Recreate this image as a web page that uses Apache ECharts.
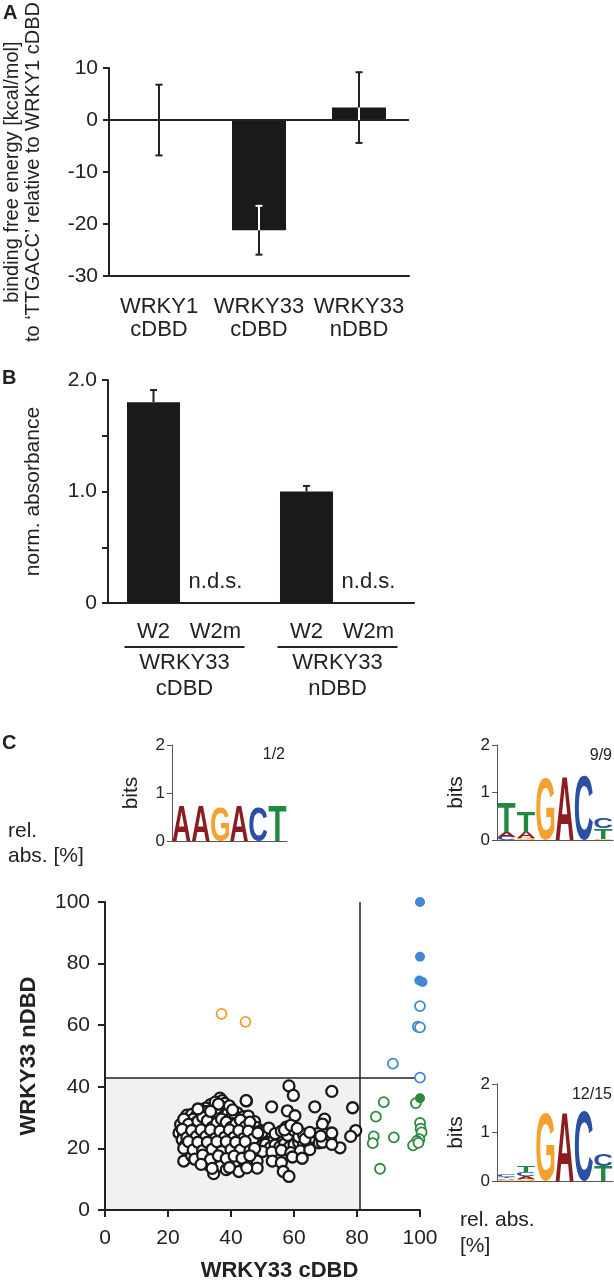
<!DOCTYPE html>
<html><head><meta charset="utf-8">
<script src="https://cdn.jsdelivr.net/npm/echarts@6/dist/echarts.min.js"></script>
<style>html,body{margin:0;padding:0;background:#fff}#c{width:614px;height:1284px}</style>
</head><body><div id="c"></div>
<script>
// ---------- Panel A ----------
const aCategories = ['WRKY1\ncDBD', 'WRKY33\ncDBD', 'WRKY33\nnDBD'];
const aValues = [0, -21.2, 2.4];
const aErrors = [6.8, 4.7, 6.8];
const aYName = 'binding free energy [kcal/mol]\nto \u2018TTGACC\u2019 relative to WRKY1 cDBD';
// ---------- Panel B ----------
const bGroups = ['WRKY33\ncDBD', 'WRKY33\nnDBD'];
const bProbes = ['W2', 'W2m'];
const bW2 = [1.80, 1.00];
const bW2err = [0.11, 0.05];
const bW2m = [0, 0];
const bW2mLabel = 'n.d.s.';
const bTickLabels = { '0': '0', '1': '1.0', '2': '2.0' };
const bYName = 'norm. absorbance';
// ---------- Panel C scatter ----------
const blackPts = [
[58.4,40.3],[59.8,37.2],[72,38.5],[44.9,35.4],[52.9,33.5],[57.9,32.2],[60.3,30.6],[66.6,33.5],[78.6,33.2],[79.6,25.8],[78,23.9],[69.7,29.5],[69,27.9],[74.6,20.2],
[36.5,36.3],[37.2,35.5],[38,34.6],[33.5,34.2],[35,33.5],[38.5,33.2],[34,33],[32,33.1],[30.5,32.4],[42,31.5],[44.8,35.5],
[26,30.8],[27.5,31],[29,30.5],[31,31.8],[32.5,32],[34.5,31.5],[36,31],[37.5,30.2],[39,31.5],[40.5,30.8],[42.5,29.8],[44,30.3],[45.5,30.5],[28,29.5],[30,29.2],[33,30],[35.5,29.6],[38,29],[41,29.3],[47.5,28.7],[43.5,28.2],
[24,27.8],[25.5,28.5],[27,27.3],[28.5,28],[30,27.5],[31.5,28.3],[33,27.8],[34.5,28.5],[36,27.2],[37.5,27.8],[39,27.5],[40.5,28],[42,27.2],[43.5,26.6],[45,27.4],[46.5,26.3],[48,26.8],[49.5,25.8],[26,26.5],[29,26.2],[32,26.4],[35,26],[38,26.3],[41,25.8],[44,25.5],[47,25.2],
[23.5,25],[25,24.3],[26.5,25.3],[28,24.6],[29.5,25],[31,24.2],[32.5,25.1],[34,24.5],[35.5,24.9],[37,24.1],[38.5,25],[40,24.3],[41.5,24.8],[43,24],[44.5,24.6],[46,23.8],[47.5,24.2],[49,23.5],[50.5,24.3],[52,23.2],[24.5,22.8],[27,23],[30,22.5],[33,23.2],[36,22.6],[39,23],[42,22.4],[45,22.8],[48,22.2],[51,22],[53.5,22.6],[55,23.5],[56.5,22.2],
[25.5,21],[27,21.8],[28.5,20.5],[30,21.5],[31.5,20.2],[33,21.2],[34.5,20.8],[36,21.6],[37.5,20.4],[39,21.3],[40.5,20],[42,21],[43.5,20.5],[45,21.4],[46.5,20.2],[48,21],[49.5,20.6],[51,21.3],[52.5,20.3],[54,21.1],[55.5,20.5],[57,21.5],[58.5,20.4],[60,21.2],[61.5,22],[63,21.5],[64.5,20.8],
[26.5,19],[29,18.5],[32,19.2],[35,18.7],[38,19.5],[41,18.6],[44,19.1],[47,18.4],[50,19],[53,18.8],[56,19.4],[59,18.6],[62,19.2],[65,19.6],
[25,15.9],[27.5,17.6],[30,16.2],[32.5,17.1],[35,15.8],[37,16.9],[39.5,15.5],[42,16.7],[44.5,15.4],[47,16.3],[48.3,15.9],[53.1,15.9],[56,15.4],[59.5,17.2],[62.6,16.8],[33,14.5],[36.5,14.2],[41,14.8],
[34.5,11.8],[38.5,13.1],[42.5,12.5],[48.3,13.6],[56.6,12.5],[58.4,10.9],
[50,25.3],[52,26.6],[54,24.8],[56,25.6],[57.5,26.9],[58,24.2],[60,25.8],[61.5,23.8],[63,24.6],[64,22.8],[66,23.6],[67.5,24.8],[68,21.8],[70,24.5],[71.5,23],[72,25],[69,22],[72,21.3],[57,26],[59,27.5],[61,26.5],[63.5,23],[65,25.2],[68.5,24],
[25,29.5],[26.5,27.8],[28,26],[29.5,28.8],[31,30.2],[32.5,29],[34,26.8],[35.5,28.2],[37,29.5],[38.5,28.5],[40,26.8],[41.5,27.8],[43,29.2],[44.5,27],[46,28.5],
[24.5,26.2],[26,23.5],[27.5,25.8],[29,23.8],[30.5,26],[32,23.8],[33.5,26],[35,23.2],[36.5,25.6],[38,23.6],[39.5,26],[41,23.6],[42.5,25.8],[44,23.2],[45.5,25.6],[47,23],[48.5,25],
[25,20],[26.5,22.2],[28,19.5],[29.5,22],[31,19.3],[32.5,22],[34,19.7],[35.5,22.2],[37,19],[38.5,22.2],[40,19.6],[41.5,22],[43,19.5],[44.5,22.2],[46,19.2],[47.5,20],
[28.5,16.5],[31,17.8],[33.5,16.4],[36,17.6],[38.5,16.7],[41,17.5],[43.5,16.8],[46,17.6],[34,13.5],[39.5,13.8],[30.5,14.8],[45,13.7],
[35,35],[39.5,33.8],[36,34.4],[40.5,32.5],[33.5,32],[29.5,32.8]
];
const orangeOpen = [[37,63.7],[44.6,61.1]];
const blueFilled = [[100,100],[100,82.2],[99.8,74.5],[100.8,74]];
const blueOpen = [[100,66.2],[99.3,59.5],[100,59.3],[91.4,47.5],[100,43]];
const greenFilled = [[100,36.3]];
const greenOpen = [[98.7,34.7],[88.5,35],[86,30.3],[85.3,23.9],[85,21.7],[91.7,23.6],[87.3,13.4],[100,28.3],[100.2,26.4],[100.5,25.2],[99.8,23],[99,22.4],[97.8,21],[99.5,21.8]];
const thrX = 81, thrY = 43;
const cXName = 'WRKY33 cDBD', cYName = 'WRKY33 nDBD';
const relAbsLeft = 'rel.\nabs. [%]', relAbsBottom = 'rel. abs.\n[%]';
// ---------- Sequence logos (letter, bits) bottom -> top ----------
const logoPositions = ['1','2','3','4','5','6'];
const logoOrange = [[['A',0.72]],[['A',0.72]],[['G',0.72]],[['A',0.72]],[['C',0.72]],[['T',0.72]]];
const logoBlue = [[['C',0.07],['A',0.10],['T',0.63]],[['G',0.04],['A',0.13],['T',0.44]],[['G',1.31]],[['A',1.35]],[['C',1.35]],[['G',0.03],['T',0.22],['C',0.22]]];
const logoGreen = [[['G',0.03],['A',0.03],['T',0.03],['C',0.04]],[['G',0.04],['A',0.06],['C',0.08],['T',0.13]],[['G',1.41]],[['A',1.43]],[['C',1.43]],[['T',0.31],['C',0.23]]];
const logoCounts = ['1/2','9/9','12/15'];

// ---------- styling ----------
const FF = "'Liberation Sans', Arial, Helvetica, sans-serif";
const INK = '#222';
const LETTERS = 'ACGT';
const LETTER_COLORS = { A: '#8c1c1f', C: '#2b4fa3', G: '#f4a22d', T: '#1f8a3d' };
const LOGO_FONT = "bold 100px 'Liberation Sans', Arial, sans-serif";
const COL_BLUE = '#4289d2', COL_GREEN = '#2b8a3c', COL_ORANGE = '#f0a02e';
const BAR_W_B = 53, BAR_GAP_B = 0.17;

const meas = (() => {
  const ctx = document.createElement('canvas').getContext('2d');
  ctx.font = LOGO_FONT; ctx.textAlign = 'center'; ctx.textBaseline = 'middle';
  const r = {};
  for (const L of LETTERS) {
    const m = ctx.measureText(L);
    r[L] = { l: m.actualBoundingBoxLeft, r: m.actualBoundingBoxRight, a: m.actualBoundingBoxAscent, d: m.actualBoundingBoxDescent };
  }
  return r;
})();

function logoData(cols) {
  const out = [];
  cols.forEach((stack, c) => {
    let y = 0;
    stack.forEach(([L, h]) => { out.push([c, y, y + h, LETTERS.indexOf(L)]); y += h; });
  });
  return out;
}
function logoItem(params, api) {
  const c = api.value(0), y0 = api.value(1), y1 = api.value(2), L = LETTERS[api.value(3)];
  const pb = api.coord([c, y0]), pt = api.coord([c, y1]);
  const bw = api.size([1, 0])[0];
  const left = pb[0] - bw / 2 + 0.6, right = pb[0] + bw / 2 - 0.6;
  const m = meas[L];
  const sx = (right - left) / (m.l + m.r), sy = Math.max(pb[1] - pt[1], 0.01) / (m.a + m.d);
  return {
    type: 'text', x: left + m.l * sx, y: pb[1] - m.d * sy, scaleX: sx, scaleY: sy,
    style: { text: L, x: 0, y: 0, font: LOGO_FONT, fill: LETTER_COLORS[L],
      align: 'center', verticalAlign: 'middle', textAlign: 'center', textVerticalAlign: 'middle' }
  };
}
function seg(x1, y1, x2, y2, c) {
  return { type: 'line', shape: { x1, y1, x2, y2 }, style: { stroke: c, lineWidth: 2 } };
}

const chart = echarts.init(document.getElementById('c'), null, { renderer: 'canvas', width: 614, height: 1284 });

const axisLineStyle = { lineStyle: { color: INK, width: 2 } };
const tickStyle = { lineStyle: { color: INK, width: 2 } };
const logoAxisLine = { lineStyle: { color: '#555', width: 1 } };

function logoGridAxes(gi) {
  return {
    x: { gridIndex: gi, type: 'category', data: logoPositions, boundaryGap: true,
         axisLine: logoAxisLine, axisTick: { show: false }, axisLabel: { show: false } },
    y: { gridIndex: gi, type: 'value', min: 0, max: 2, interval: 1, splitLine: { show: false },
         axisLine: { show: true, ...logoAxisLine }, axisTick: { show: true, length: 5, lineStyle: { color: '#555', width: 1 } },
         axisLabel: { fontSize: 17, fontFamily: FF, color: INK, margin: 7 },
         name: 'bits', nameLocation: 'middle', nameRotate: 90, nameGap: 31,
         nameTextStyle: { fontSize: 21, fontFamily: FF, color: INK, lineHeight: 20 } }
  };
}
const lg = [logoGridAxes(2), logoGridAxes(3), logoGridAxes(4)];

const option = {
  animation: false,
  backgroundColor: '#fff',
  grid: [
    { left: 109, top: 53, width: 300, height: 223 },
    { left: 108, top: 380, width: 306, height: 223 },
    { left: 172, top: 745, width: 115, height: 96 },
    { left: 497, top: 745, width: 116, height: 95 },
    { left: 497, top: 1084, width: 116, height: 97 },
    { left: 105, top: 902, width: 315, height: 314 }
  ],
  xAxis: [
    { gridIndex: 0, type: 'category', data: aCategories, axisLine: { onZero: false, ...axisLineStyle },
      axisTick: { alignWithLabel: true, length: 6, ...tickStyle },
      axisLabel: { interval: 0, hideOverlap: false, fontSize: 22, lineHeight: 23, margin: 19, color: INK, fontFamily: FF } },
    { gridIndex: 1, type: 'category', data: bGroups, axisLine: axisLineStyle, axisTick: { show: false },
      axisLabel: { interval: 0, margin: 17, color: INK, fontFamily: FF,
        formatter: (v) => {
          const p = v.split('\n');
          return '{p|' + bProbes[0] + '}{p|' + bProbes[1] + '}\n{u| }\n{g|' + p[0] + '}\n{g|' + p[1] + '}';
        },
        rich: {
          p: { width: 62, align: 'center', fontSize: 22, lineHeight: 24, fontFamily: FF, color: INK },
          u: { width: 120, height: 2, lineHeight: 6, backgroundColor: INK, fontSize: 2 },
          g: { fontSize: 22, lineHeight: 26, fontFamily: FF, color: INK, align: 'center' }
        } } },
    lg[0].x, lg[1].x, lg[2].x,
    { gridIndex: 5, type: 'value', min: 0, max: 100, interval: 20, z: 3, splitLine: { show: false },
      axisLine: { onZero: false, ...axisLineStyle }, axisTick: { length: 7, ...tickStyle },
      axisLabel: { fontSize: 21, margin: 18, color: INK, fontFamily: FF },
      name: cXName, nameLocation: 'middle', nameGap: 49,
      nameTextStyle: { fontSize: 22, fontWeight: 'bold', fontFamily: FF, color: INK, lineHeight: 24, padding: [0, 0, 0, 34] } }
  ],
  yAxis: [
    { gridIndex: 0, type: 'value', min: -30, max: 10, interval: 10, splitLine: { show: false },
      axisLine: { show: true, ...axisLineStyle }, axisTick: { show: true, length: 6, ...tickStyle },
      axisLabel: { fontSize: 21, margin: 11, color: INK, fontFamily: FF },
      name: aYName, nameLocation: 'middle', nameRotate: 90, nameGap: 65,
      nameTextStyle: { fontSize: 20, lineHeight: 21, fontFamily: FF, color: INK } },
    { gridIndex: 1, type: 'value', min: 0, max: 2, interval: 0.5, splitLine: { show: false },
      axisLine: { show: true, ...axisLineStyle }, axisTick: { show: true, length: 6, ...tickStyle },
      axisLabel: { fontSize: 21, margin: 11, color: INK, fontFamily: FF,
        formatter: (v) => bTickLabels[String(v)] !== undefined ? bTickLabels[String(v)] : '' },
      name: bYName, nameLocation: 'middle', nameRotate: 90, nameGap: 64,
      nameTextStyle: { fontSize: 21, lineHeight: 22, fontFamily: FF, color: INK } },
    lg[0].y, lg[1].y, lg[2].y,
    { gridIndex: 5, type: 'value', min: 0, max: 100, interval: 20, z: 3, splitLine: { show: false },
      axisLine: { show: true, onZero: false, ...axisLineStyle }, axisTick: { show: true, length: 7, ...tickStyle },
      axisLabel: { fontSize: 21, margin: 15, color: INK, fontFamily: FF },
      name: cYName, nameLocation: 'middle', nameRotate: 90, nameGap: 64,
      nameTextStyle: { fontSize: 22, fontWeight: 'bold', fontFamily: FF, color: INK, lineHeight: 24 } }
  ],
  series: [
    { type: 'bar', xAxisIndex: 0, yAxisIndex: 0, data: aValues, barWidth: 54, itemStyle: { color: '#1a1a1a' },
      markLine: { silent: true, symbol: 'none', label: { show: false }, lineStyle: { color: INK, width: 2, type: 'solid' },
        data: [{ yAxis: 0 }] } },
    { type: 'custom', xAxisIndex: 0, yAxisIndex: 0, z: 6,
      data: aValues.map((v, i) => [i, v, v - aErrors[i], v + aErrors[i]]),
      encode: { x: 0, y: [1, 2, 3] },
      renderItem: (params, api) => {
        const i = api.value(0), v = api.value(1);
        const x = api.coord([i, 0])[0];
        const y0 = api.coord([i, 0])[1], yv = api.coord([i, v])[1];
        const lo = api.coord([i, api.value(2)])[1], hi = api.coord([i, api.value(3)])[1];
        const bt = Math.min(y0, yv), bb = Math.max(y0, yv);
        const hasBar = v !== 0;
        const ch = [seg(x, hi, x, lo, INK)];
        const s = Math.max(hi, bt), e = Math.min(lo, bb);
        if (hasBar && e > s) ch.push(seg(x, s, x, e, '#fff'));
        [hi, lo].forEach(yc => {
          const inside = hasBar && yc > bt && yc < bb;
          ch.push(seg(x - 3.5, yc, x + 3.5, yc, inside ? '#fff' : INK));
        });
        return { type: 'group', children: ch };
      } },
    { type: 'bar', name: bProbes[0], xAxisIndex: 1, yAxisIndex: 1, data: bW2, barWidth: BAR_W_B, barGap: (BAR_GAP_B * 100) + '%',
      itemStyle: { color: '#1a1a1a' } },
    { type: 'bar', name: bProbes[1], xAxisIndex: 1, yAxisIndex: 1, data: bW2m, barWidth: BAR_W_B, barGap: (BAR_GAP_B * 100) + '%',
      itemStyle: { color: '#1a1a1a' },
      label: { show: true, position: 'top', distance: 10, formatter: () => bW2mLabel, fontSize: 22, fontFamily: FF, color: INK } },
    { type: 'custom', xAxisIndex: 1, yAxisIndex: 1, z: 6,
      data: bW2.map((v, i) => [i, v, v + bW2err[i]]),
      encode: { x: 0, y: [1, 2] },
      renderItem: (params, api) => {
        const i = api.value(0);
        const off = BAR_W_B * (1 + BAR_GAP_B) / 2;
        const x = api.coord([i, 0])[0] - off;
        const yv = api.coord([i, api.value(1)])[1], hi = api.coord([i, api.value(2)])[1];
        return { type: 'group', children: [seg(x, yv, x, hi, INK), seg(x - 3.5, hi, x + 3.5, hi, INK)] };
      } },
    { type: 'custom', xAxisIndex: 2, yAxisIndex: 2, data: logoData(logoOrange), encode: { x: 0, y: [1, 2] }, renderItem: logoItem },
    { type: 'custom', xAxisIndex: 3, yAxisIndex: 3, data: logoData(logoBlue), encode: { x: 0, y: [1, 2] }, renderItem: logoItem },
    { type: 'custom', xAxisIndex: 4, yAxisIndex: 4, data: logoData(logoGreen), encode: { x: 0, y: [1, 2] }, renderItem: logoItem },
    { type: 'line', xAxisIndex: 5, yAxisIndex: 5, data: [], z: 1,
      markArea: { silent: true, z: 1, itemStyle: { color: '#f1f1f1' },
        data: [[{ coord: [0, 0] }, { coord: [thrX, thrY] }]] } },
    { type: 'line', xAxisIndex: 5, yAxisIndex: 5, data: [], z: 2,
      markLine: { silent: true, z: 2, symbol: 'none', label: { show: false }, lineStyle: { color: INK, width: 1.5, type: 'solid' },
        data: [[{ coord: [thrX, 0] }, { coord: [thrX, 100] }], [{ coord: [0, thrY] }, { coord: [100, thrY] }]] } },
    { type: 'scatter', xAxisIndex: 5, yAxisIndex: 5, z: 5, clip: false, data: blackPts, symbolSize: 11,
      itemStyle: { color: '#fff', borderColor: '#1a1a1a', borderWidth: 2.3, opacity: 1 } },
    { type: 'scatter', xAxisIndex: 5, yAxisIndex: 5, z: 6, clip: false, data: orangeOpen, symbolSize: 10,
      itemStyle: { color: '#fff', borderColor: COL_ORANGE, borderWidth: 1.8, opacity: 1 } },
    { type: 'scatter', xAxisIndex: 5, yAxisIndex: 5, z: 6, clip: false, data: greenOpen, symbolSize: 10,
      itemStyle: { color: '#fff', borderColor: COL_GREEN, borderWidth: 1.8, opacity: 1 } },
    { type: 'scatter', xAxisIndex: 5, yAxisIndex: 5, z: 6, clip: false, data: greenFilled, symbolSize: 10,
      itemStyle: { color: COL_GREEN, opacity: 1 } },
    { type: 'scatter', xAxisIndex: 5, yAxisIndex: 5, z: 6, clip: false, data: blueOpen, symbolSize: 10,
      itemStyle: { color: '#fff', borderColor: COL_BLUE, borderWidth: 1.8, opacity: 1 } },
    { type: 'scatter', xAxisIndex: 5, yAxisIndex: 5, z: 6, clip: false, data: blueFilled, symbolSize: 10,
      itemStyle: { color: COL_BLUE, opacity: 1 } }
  ],
  graphic: [
    { type: 'text', left: 3, top: 3, style: { text: 'A', font: "bold 20px " + FF, fill: INK } },
    { type: 'text', left: 2, top: 368, style: { text: 'B', font: "bold 20px " + FF, fill: INK } },
    { type: 'text', left: 2, top: 733, style: { text: 'C', font: "bold 20px " + FF, fill: INK } },
    { type: 'text', left: 8, top: 819, style: { text: relAbsLeft, font: "21px " + FF, fill: INK, lineHeight: 25 } },
    { type: 'text', left: 460, top: 1207, style: { text: relAbsBottom, font: "21px " + FF, fill: INK, lineHeight: 26 } },
    { type: 'text', right: 329, top: 747, style: { text: logoCounts[0], font: "16px " + FF, fill: INK } },
    { type: 'text', right: 2, top: 748, style: { text: logoCounts[1], font: "16px " + FF, fill: INK } },
    { type: 'text', right: 2, top: 1087, style: { text: logoCounts[2], font: "16px " + FF, fill: INK } }
  ]
};
chart.setOption(option);
</script>
</body></html>
